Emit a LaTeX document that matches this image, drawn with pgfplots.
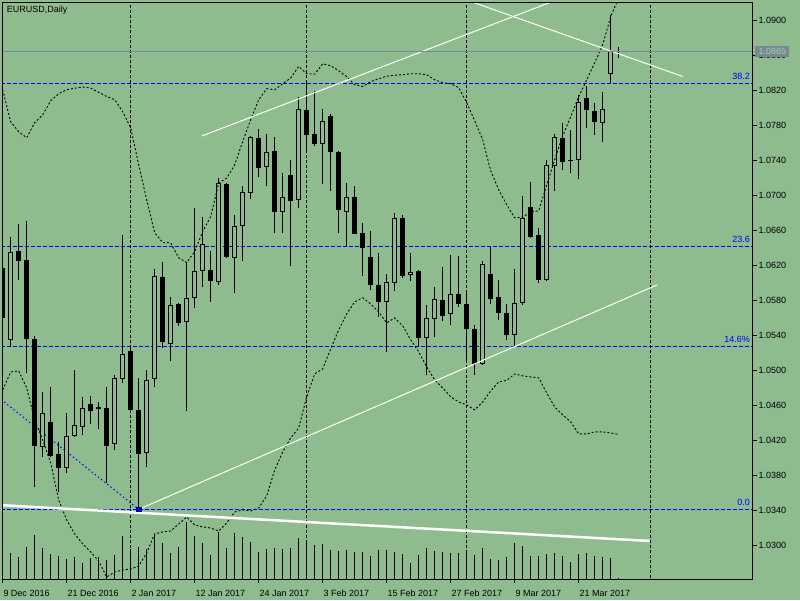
\documentclass[border=0pt]{standalone}
\usepackage{pgfplots}
\pgfplotsset{compat=1.18}
\usepackage{pgfplotstable}
\usepackage{fontspec}
\setmainfont{Liberation Sans}
\definecolor{bg}{RGB}{143,188,143}
\definecolor{fibblue}{RGB}{0,0,255}
\definecolor{pricegray}{RGB}{119,136,153}
\definecolor{pricetext}{RGB}{170,205,160}

\pgfplotstableread{
i O H L C
0 1.06170 1.06242 1.05522 1.05599
1 1.05347 1.06525 1.05271 1.06353
2 1.06368 1.06677 1.06037 1.06257
3 1.06265 1.06711 1.04970 1.05366
4 1.05359 1.05397 1.03674 1.04143
5 1.04131 1.04757 1.04017 1.04513
6 1.04410 1.04810 1.04014 1.04029
7 1.04045 1.04189 1.03617 1.03885
8 1.03892 1.04513 1.03834 1.04250
9 1.04257 1.05008 1.04239 1.04376
10 1.04360 1.04700 1.04265 1.04570
11 1.04616 1.04714 1.04391 1.04543
12 1.04559 1.04642 1.04334 1.04582
13 1.04570 1.04814 1.03720 1.04143
14 1.04159 1.04951 1.04094 1.04913
15 1.04902 1.06547 1.04856 1.05191
16 1.05229 1.05294 1.04528 1.04554
17 1.04551 1.04913 1.03416 1.04048
18 1.04063 1.05008 1.03903 1.04890
19 1.04902 1.06162 1.04817 1.06079
20 1.06071 1.06242 1.05256 1.05331
21 1.05309 1.05842 1.05114 1.05747
22 1.05759 1.05774 1.05514 1.05549
23 1.05560 1.06242 1.04543 1.05827
24 1.05834 1.06859 1.05713 1.06140
25 1.06143 1.06760 1.05957 1.06448
26 1.06151 1.06368 1.05789 1.06029
27 1.06017 1.07199 1.05972 1.07142
28 1.07134 1.07145 1.06288 1.06296
29 1.06291 1.06779 1.05892 1.06654
30 1.06657 1.07111 1.06254 1.07042
31 1.07034 1.07677 1.06962 1.07671
32 1.07660 1.07762 1.07206 1.07309
33 1.07325 1.07705 1.07114 1.07496
34 1.07511 1.07667 1.06577 1.06817
35 1.06817 1.07260 1.06577 1.06985
36 1.07237 1.07408 1.06200 1.06932
37 1.06947 1.08125 1.06852 1.07987
38 1.07980 1.08296 1.07522 1.07686
39 1.07705 1.08189 1.07560 1.07591
40 1.07583 1.07991 1.07134 1.07854
41 1.07911 1.07934 1.07057 1.07500
42 1.07500 1.07505 1.06570 1.06829
43 1.06817 1.07142 1.06425 1.06985
44 1.06985 1.07111 1.06559 1.06565
45 1.06570 1.06685 1.06086 1.06406
46 1.06299 1.06597 1.05922 1.05983
47 1.05980 1.06345 1.05617 1.05789
48 1.05782 1.06102 1.05217 1.06010
49 1.05999 1.06799 1.05914 1.06742
50 1.06742 1.06779 1.06063 1.06082
51 1.06090 1.06342 1.06025 1.06125
52 1.06140 1.06145 1.05267 1.05377
53 1.05370 1.05747 1.04951 1.05599
54 1.05587 1.05953 1.05389 1.05816
55 1.05808 1.06182 1.05571 1.05629
56 1.05645 1.06322 1.05522 1.05873
57 1.05877 1.06307 1.05728 1.05766
58 1.05762 1.05922 1.05122 1.05471
59 1.05477 1.05522 1.04951 1.05073
60 1.05073 1.06254 1.05065 1.06216
61 1.06105 1.06417 1.05759 1.05823
62 1.05842 1.06037 1.05579 1.05663
63 1.05663 1.05759 1.05351 1.05408
64 1.05408 1.06159 1.05274 1.05770
65 1.05777 1.06997 1.05751 1.06742
66 1.06867 1.07153 1.06520 1.06531
67 1.06551 1.06634 1.06006 1.06037
68 1.06034 1.07408 1.06029 1.07351
69 1.07339 1.07702 1.07057 1.07667
70 1.07656 1.07827 1.07286 1.07377
71 1.07405 1.07751 1.07256 1.07394
72 1.07405 1.08151 1.07191 1.08067
73 1.08113 1.08254 1.07770 1.07971
74 1.07968 1.08056 1.07686 1.07834
75 1.07827 1.08182 1.07606 1.07991
76 1.08391 1.09065 1.08285 1.08654
77 1.08654 1.08696 1.08566 1.08645
}\candles

\pgfplotstableread{
i U Lo
0 1.08208 1.04779
1 1.07842 1.04985
2 1.07728 1.04997
3 1.07660 1.04802
4 1.07831 1.04437
5 1.07922 1.04208
6 1.08082 1.03945
7 1.08162 1.03522
8 1.08208 1.03294
9 1.08225 1.03134
10 1.08239 1.03020
11 1.08228 1.02928
12 1.08179 1.02825
13 1.08131 1.02642
14 1.08094 1.02700
15 1.07957 1.02722
16 1.07774 1.02734
17 1.07351 1.02768
18 1.06951 1.02917
19 1.06574 1.03134
20 1.06463 1.03157
21 1.06460 1.03168
22 1.06288 1.03248
23 1.06234 1.03328
24 1.06360 1.03237
25 1.06589 1.03214
26 1.06760 1.03202
27 1.07142 1.03168
28 1.07199 1.03260
29 1.07351 1.03385
30 1.07617 1.03408
31 1.07865 1.03397
32 1.08094 1.03431
33 1.08220 1.03568
34 1.08208 1.03865
35 1.08277 1.04071
36 1.08342 1.04231
37 1.08474 1.04345
38 1.08391 1.04700
39 1.08385 1.04962
40 1.08505 1.05020
41 1.08482 1.05248
42 1.08425 1.05465
43 1.08357 1.05648
44 1.08265 1.05785
45 1.08246 1.05831
46 1.08300 1.05762
47 1.08334 1.05671
48 1.08362 1.05545
49 1.08374 1.05602
50 1.08379 1.05511
51 1.08391 1.05351
52 1.08391 1.05214
53 1.08379 1.05042
54 1.08322 1.04894
55 1.08288 1.04802
56 1.08277 1.04700
57 1.08231 1.04642
58 1.08060 1.04608
59 1.07854 1.04551
60 1.07637 1.04642
61 1.07282 1.04768
62 1.07065 1.04871
63 1.06894 1.04888
64 1.06745 1.04962
65 1.06751 1.04940
66 1.06814 1.04928
67 1.06825 1.04917
68 1.07122 1.04745
69 1.07408 1.04585
70 1.07682 1.04494
71 1.07900 1.04414
72 1.08128 1.04277
73 1.08322 1.04277
74 1.08517 1.04300
75 1.08722 1.04300
76 1.09042 1.04288
77 1.09259 1.04271
}\bands

\pgfplotstableread{
i V
1 26.3
2 22
3 32
4 44
5 31
6 25
7 23
8 20
9 22
10 16
11 21
12 22
13 19
14 24
15 43
16 30
17 32
18 30
19 44
20 36
21 26
22 32
23 57
24 43
25 36
26 24
27 47
28 31
29 46
30 42
31 37
32 27
33 30
34 31
35 30
36 31
37 41
38 37
39 34
40 35
41 29
42 28
43 29
44 27
45 27
46 23
47 29
48 29
49 27
50 25
51 16
52 24
53 31
54 28
55 27
56 26
57 26
58 26
59 24
60 31
61 20
62 19
63 22
64 36
65 33
66 23
67 23
68 25
69 26
70 23
71 17
72 25
73 26
74 23
75 22
76 21
77 1
}\volumes

\begin{document}
\begin{tikzpicture}
\fill[bg] (0pt,0pt) rectangle (800pt,600pt);
% volumes
\begin{axis}[at={(2.7pt,21pt)}, anchor=south west, scale only axis,
  width=750pt, height=576.3pt, xmin=0, xmax=93.75, ymin=0, ymax=576.3, hide axis]
\addplot[ycomb, black, line width=1pt, mark=none] table[x=i,y=V] \volumes;
\end{axis}
% price
\begin{axis}[at={(2.7pt,21pt)}, anchor=south west, scale only axis,
  width=750pt, height=576.3pt,
  xmin=0, xmax=93.75, ymin=1.026195, ymax=1.092023,
  axis on top,
  axis line style={black, line width=1pt},
  tick style={black, line width=1pt},
  tick align=outside, major tick length=4pt,
  xtick pos=left, ytick pos=right,
  xticklabel pos=left, yticklabel pos=right,
  scaled y ticks=false,
  xtick={0,8,16,24,32,40,48,56,64,72},
  xticklabels={9 Dec 2016, 21 Dec 2016, 2 Jan 2017, 12 Jan 2017, 24 Jan 2017, 3 Feb 2017, 15 Feb 2017, 27 Feb 2017, 9 Mar 2017, 21 Mar 2017},
  ytick={1.030,1.034,1.038,1.042,1.046,1.050,1.054,1.058,1.062,1.066,1.070,1.074,1.078,1.082,1.086,1.090},
  yticklabels={1.0300,1.0340,1.0380,1.0420,1.0460,1.0500,1.0540,1.0580,1.0620,1.0660,1.0700,1.0740,1.0780,1.0820,1.0860,1.0900},
  tick label style={font=\fontsize{9pt}{10pt}\selectfont, inner sep=0pt},
  xticklabel style={anchor=base west, xshift=0.6pt, yshift=-13pt},
  yticklabel style={anchor=west, xshift=1.6pt},
  /pgf/number format/assume math mode=true,
]
% Fibonacci levels
\addplot[fibblue, line width=1pt, dash pattern=on 4pt off 2pt] coordinates {(-1,1.082846) (95,1.082846)};
\addplot[fibblue, line width=1pt, dash pattern=on 4pt off 2pt] coordinates {(-1,1.064217) (95,1.064217)};
\addplot[fibblue, line width=1pt, dash pattern=on 4pt off 2pt] coordinates {(-1,1.052789) (95,1.052789)};
\addplot[fibblue, line width=1pt, dash pattern=on 4pt off 2pt] coordinates {(-1,1.03416) (95,1.03416)};
% vertical dashed lines
\addplot[black, line width=1pt, dash pattern=on 3pt off 2pt] coordinates {(16,1.02) (16,1.10)};
\addplot[black, line width=1pt, dash pattern=on 3pt off 2pt] coordinates {(38,1.02) (38,1.10)};
\addplot[black, line width=1pt, dash pattern=on 3pt off 2pt] coordinates {(58,1.02) (58,1.10)};
\addplot[black, line width=1pt, dash pattern=on 3pt off 2pt] coordinates {(81,1.02) (81,1.10)};
% fib trend line
\addplot[fibblue, line width=1pt, dash pattern=on 1.5pt off 2.5pt] coordinates {(-1,1.04728) (17,1.03416)};
% candles: wicks
\addplot[draw=none, mark=none,
  error bars/.cd, y dir=plus, y explicit, error mark=none,
  error bar style={line width=1pt, draw=black}]
  table[x=i, y=L, y error plus expr=\thisrow{H}-\thisrow{L}] \candles;
% bodies
\addplot[draw=none, mark=none,
  error bars/.cd, y dir=plus, y explicit, error mark=none,
  error bar style={line width=4.6pt, draw=black}]
  table[x=i, y expr={min(\thisrow{O},\thisrow{C})}, y error plus expr={abs(\thisrow{C}-\thisrow{O})}] \candles;
% hollow bull bodies
\addplot[draw=none, mark=none,
  x filter/.expression={\thisrow{C}>\thisrow{O} ? x : nan},
  error bars/.cd, y dir=plus, y explicit, error mark=none,
  error bar style={line width=2.6pt, draw=bg}]
  table[x=i, y expr={\thisrow{O}+0.000114}, y error plus expr={max(\thisrow{C}-\thisrow{O}-0.000229,0)}] \candles;
% Bollinger bands
\addplot[black, line width=0.9pt, dash pattern=on 2pt off 2pt] table[x=i, y=U] \bands;
\addplot[black, line width=0.9pt, dash pattern=on 2pt off 2pt] table[x=i, y=Lo] \bands;
% trend lines
\addplot[white, line width=1pt] coordinates {(24.875,1.07679) (69.66,1.09249)};
\addplot[white, line width=1pt] coordinates {(57.79,1.09239) (85.0,1.08360)};
\addplot[white, line width=1pt] coordinates {(17,1.03416) (81.83,1.05980)};
\addplot[white, line width=2.5pt] coordinates {(-1,1.03467) (80.9,1.03054)};
% current price line
\addplot[pricegray, line width=1pt] coordinates {(-1,1.0865) (95,1.0865)};
% fib anchor marker
\addplot[only marks, mark=square*, mark size=2.3pt, mark options={fill=fibblue, draw={rgb,255:red,0;green,0;blue,110}, line width=0.8pt}] coordinates {(17,1.03416)};
\end{axis}
% texts
\node[anchor=base west, inner sep=0pt, font=\fontsize{9pt}{10pt}\selectfont] at (6.7pt,587.3pt) {EURUSD,Daily};
\node[anchor=base east, inner sep=0pt, text=fibblue, font=\fontsize{9pt}{10pt}\selectfont] at (750pt,520pt) {38.2};
\node[anchor=base east, inner sep=0pt, text=fibblue, font=\fontsize{9pt}{10pt}\selectfont] at (750pt,357.7pt) {23.6};
\node[anchor=base east, inner sep=0pt, text=fibblue, font=\fontsize{9pt}{10pt}\selectfont] at (750pt,257.3pt) {14.6\%};
\node[anchor=base east, inner sep=0pt, text=fibblue, font=\fontsize{9pt}{10pt}\selectfont] at (750pt,94.3pt) {0.0};
\node[anchor=west, fill=pricegray, text=pricetext, inner xsep=3.3pt, inner ysep=0pt, minimum height=10.7pt, font=\fontsize{9pt}{10pt}\selectfont] at (755pt,548.7pt) {1.0865};
\pgfresetboundingbox
\path (0pt,0pt) rectangle (800pt,600pt);
\end{tikzpicture}
\end{document}
